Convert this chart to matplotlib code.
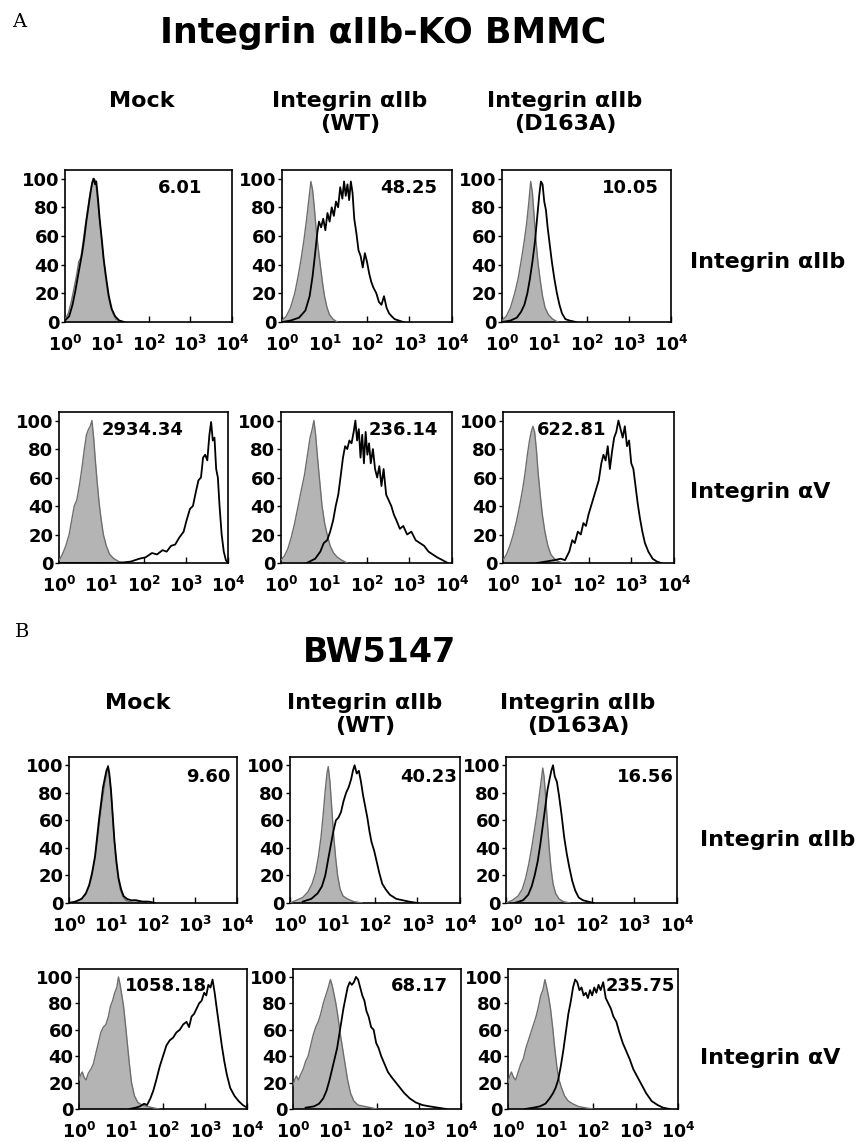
import numpy as np
import matplotlib
matplotlib.use("Agg")
import matplotlib.pyplot as plt

plt.rcParams["font.family"] = ["DejaVu Sans"]
plt.rcParams["font.weight"] = "bold"
plt.rcParams["mathtext.fontset"] = "dejavusans"

W, H = 867, 1142

# ------------------------------------------------------------
# Histogram traces: x in decades (log10 fluorescence), y in % of max
# ------------------------------------------------------------
# A / integrin aIIb row
a1_mock_iso_x = [0.00, 0.08, 0.15, 0.22, 0.28, 0.33, 0.38, 0.43, 0.48, 0.53, 0.58, 0.63, 0.67, 0.70, 0.73,
                 0.77, 0.81, 0.86, 0.91, 0.96, 1.02, 1.08, 1.15, 1.22, 1.30, 1.40]
a1_mock_iso_y = [2, 6, 14, 24, 33, 42, 45, 55, 66, 76, 86, 94, 100, 97, 99, 88, 76, 62, 47, 34, 21, 12, 6, 2, 1, 0]
a1_mock_stn_x = [0.00, 0.10, 0.18, 0.25, 0.31, 0.36, 0.41, 0.46, 0.51, 0.56, 0.61, 0.65, 0.69, 0.72, 0.75,
                 0.79, 0.83, 0.88, 0.93, 0.99, 1.05, 1.12, 1.20, 1.30, 1.42]
a1_mock_stn_y = [1, 4, 12, 22, 32, 40, 48, 58, 70, 80, 90, 97, 100, 96, 98, 86, 72, 58, 43, 30, 18, 9, 4, 1, 0]

a1_wt_iso_x = [0.00, 0.10, 0.20, 0.30, 0.38, 0.45, 0.52, 0.58, 0.63, 0.68, 0.72, 0.76, 0.80, 0.85, 0.90,
               0.95, 1.00, 1.06, 1.12, 1.20, 1.30]
a1_wt_iso_y = [1, 4, 10, 20, 32, 44, 58, 72, 85, 98, 92, 80, 66, 52, 40, 28, 18, 10, 5, 2, 0]
a1_wt_stn_x = [0.00, 0.20, 0.40, 0.55, 0.65, 0.72, 0.78, 0.83, 0.87, 0.92, 0.97, 1.02, 1.07, 1.12, 1.17,
               1.22, 1.27, 1.32, 1.37, 1.42, 1.46, 1.50, 1.54, 1.58, 1.62, 1.66, 1.70, 1.75, 1.80, 1.85,
               1.90, 1.95, 2.00, 2.05, 2.10, 2.15, 2.22, 2.28, 2.34, 2.40, 2.46, 2.52, 2.58, 2.65, 2.75, 2.85]
a1_wt_stn_y = [0, 1, 3, 8, 18, 32, 48, 62, 70, 66, 72, 64, 76, 70, 80, 74, 84, 80, 94, 86, 98, 88, 96, 85,
               98, 90, 72, 62, 50, 46, 38, 48, 42, 34, 28, 24, 20, 14, 12, 18, 10, 6, 4, 2, 1, 0]

a1_mut_iso_x = [0.00, 0.10, 0.20, 0.30, 0.38, 0.45, 0.52, 0.58, 0.63, 0.68, 0.72, 0.76, 0.80, 0.85, 0.90,
                0.96, 1.02, 1.10, 1.20, 1.32]
a1_mut_iso_y = [1, 4, 10, 20, 30, 42, 55, 68, 82, 98, 90, 74, 58, 42, 30, 18, 10, 5, 2, 0]
a1_mut_stn_x = [0.00, 0.20, 0.35, 0.45, 0.53, 0.60, 0.66, 0.72, 0.78, 0.83, 0.88, 0.92, 0.96, 1.00, 1.04,
                1.08, 1.13, 1.18, 1.24, 1.30, 1.36, 1.42, 1.50, 1.60, 1.75]
a1_mut_stn_y = [0, 1, 3, 7, 12, 20, 30, 42, 56, 72, 88, 98, 96, 84, 78, 66, 54, 42, 30, 20, 12, 6, 2, 1, 0]

# A / integrin aV row
a2_mock_iso_x = [0.00, 0.08, 0.16, 0.24, 0.30, 0.36, 0.42, 0.48, 0.54, 0.60, 0.65, 0.70, 0.74, 0.78, 0.82,
                 0.86, 0.90, 0.95, 1.00, 1.05, 1.12, 1.20, 1.30, 1.42, 1.55]
a2_mock_iso_y = [2, 6, 12, 20, 30, 40, 44, 54, 66, 80, 90, 94, 96, 100, 88, 72, 58, 42, 30, 20, 12, 6, 3, 1, 0]
a2_mock_stn_x = [0.00, 0.50, 1.00, 1.40, 1.70, 1.90, 2.05, 2.20, 2.32, 2.45, 2.55, 2.65, 2.75, 2.85, 2.95,
                 3.02, 3.10, 3.17, 3.24, 3.30, 3.36, 3.41, 3.46, 3.51, 3.56, 3.60, 3.64, 3.68, 3.72, 3.76,
                 3.80, 3.85, 3.90, 3.95, 4.00]
a2_mock_stn_y = [0, 0, 0, 0, 1, 3, 4, 7, 6, 9, 8, 12, 13, 18, 22, 30, 38, 40, 50, 58, 60, 74, 76, 72, 90,
                 99, 86, 88, 66, 60, 40, 20, 8, 2, 0]

a2_wt_iso_x = [0.00, 0.08, 0.16, 0.24, 0.32, 0.40, 0.48, 0.55, 0.62, 0.68, 0.73, 0.77, 0.81, 0.86, 0.91,
               0.96, 1.02, 1.08, 1.15, 1.23, 1.32, 1.42, 1.55]
a2_wt_iso_y = [2, 5, 10, 18, 28, 40, 52, 62, 76, 88, 94, 100, 90, 72, 56, 40, 28, 20, 12, 7, 4, 2, 0]
a2_wt_stn_x = [0.60, 0.80, 0.92, 1.00, 1.08, 1.15, 1.22, 1.28, 1.34, 1.40, 1.45, 1.50, 1.55, 1.60, 1.65,
               1.70, 1.74, 1.78, 1.82, 1.86, 1.90, 1.94, 1.98, 2.02, 2.06, 2.10, 2.15, 2.20, 2.25, 2.30,
               2.35, 2.40, 2.46, 2.52, 2.58, 2.64, 2.70, 2.78, 2.86, 2.95, 3.05, 3.15, 3.25, 3.35, 3.45,
               3.55, 3.65, 3.78, 3.90]
a2_wt_stn_y = [0, 3, 8, 14, 16, 22, 30, 40, 48, 62, 74, 82, 80, 86, 84, 92, 100, 86, 94, 74, 90, 70, 92,
               76, 84, 70, 80, 66, 60, 68, 54, 66, 48, 44, 40, 34, 30, 24, 26, 20, 22, 16, 14, 12, 8, 6,
               4, 2, 0]

a2_mut_iso_x = [0.00, 0.08, 0.16, 0.24, 0.32, 0.40, 0.46, 0.52, 0.57, 0.62, 0.66, 0.70, 0.74, 0.78, 0.82,
                0.87, 0.92, 0.98, 1.05, 1.12, 1.20, 1.30, 1.42, 1.55]
a2_mut_iso_y = [2, 6, 12, 20, 30, 42, 52, 64, 76, 86, 92, 96, 92, 80, 64, 48, 34, 22, 12, 6, 3, 1, 0, 0]
a2_mut_stn_x = [0.80, 1.00, 1.20, 1.35, 1.45, 1.55, 1.62, 1.68, 1.75, 1.82, 1.88, 1.94, 2.00, 2.06, 2.12,
                2.18, 2.24, 2.30, 2.35, 2.40, 2.45, 2.50, 2.55, 2.60, 2.65, 2.70, 2.75, 2.80, 2.85, 2.90,
                2.95, 3.00, 3.05, 3.10, 3.15, 3.20, 3.26, 3.32, 3.40, 3.50, 3.60, 3.70]
a2_mut_stn_y = [0, 1, 2, 3, 2, 8, 16, 14, 22, 20, 28, 26, 34, 40, 46, 52, 58, 70, 76, 72, 82, 66, 78, 88,
                92, 100, 94, 88, 96, 82, 86, 70, 66, 54, 42, 32, 22, 14, 8, 3, 1, 0]

# B / integrin aIIb row
b1_mock_iso_x = [0.00, 0.15, 0.30, 0.40, 0.48, 0.55, 0.62, 0.68, 0.73, 0.78, 0.82, 0.86, 0.90, 0.93, 0.96,
                 1.00, 1.04, 1.08, 1.12, 1.17, 1.22, 1.28, 1.35, 1.45, 1.55, 1.70, 1.85, 2.00]
b1_mock_iso_y = [0, 1, 3, 6, 12, 20, 32, 46, 60, 72, 80, 88, 94, 100, 92, 80, 62, 44, 30, 18, 10, 5, 2, 1,
                 2, 1, 1, 0]
b1_mock_stn_x = [0.00, 0.15, 0.30, 0.40, 0.48, 0.55, 0.62, 0.67, 0.72, 0.77, 0.81, 0.85, 0.89, 0.93, 0.96,
                 1.00, 1.04, 1.08, 1.13, 1.18, 1.24, 1.30, 1.38, 1.48, 1.60, 1.75, 1.90, 2.05]
b1_mock_stn_y = [0, 1, 3, 7, 13, 22, 34, 48, 62, 74, 84, 90, 96, 99, 94, 82, 64, 46, 30, 18, 10, 5, 3, 2,
                 2, 1, 1, 0]

b1_wt_iso_x = [0.00, 0.15, 0.30, 0.42, 0.52, 0.60, 0.67, 0.73, 0.78, 0.83, 0.87, 0.90, 0.94, 0.98, 1.02,
               1.07, 1.12, 1.18, 1.25, 1.35, 1.50, 1.70]
b1_wt_iso_y = [0, 2, 4, 8, 14, 22, 34, 48, 64, 82, 94, 99, 88, 70, 52, 34, 20, 10, 5, 3, 1, 0]
b1_wt_stn_x = [0.30, 0.50, 0.65, 0.75, 0.83, 0.90, 0.96, 1.02, 1.08, 1.14, 1.20, 1.26, 1.32, 1.38, 1.44,
               1.48, 1.52, 1.57, 1.62, 1.67, 1.72, 1.77, 1.82, 1.87, 1.92, 1.98, 2.04, 2.10, 2.17, 2.25,
               2.35, 2.50, 2.65, 2.80, 3.00]
b1_wt_stn_y = [1, 3, 7, 12, 20, 32, 42, 52, 60, 62, 66, 74, 80, 84, 90, 96, 100, 94, 96, 88, 78, 70, 62,
               52, 44, 38, 30, 22, 14, 10, 6, 3, 2, 1, 0]

b1_mut_iso_x = [0.00, 0.15, 0.28, 0.38, 0.46, 0.53, 0.60, 0.66, 0.72, 0.77, 0.82, 0.86, 0.89, 0.93, 0.97,
                1.01, 1.05, 1.10, 1.16, 1.24, 1.34, 1.50]
b1_mut_iso_y = [0, 2, 5, 10, 18, 28, 40, 52, 64, 76, 88, 98, 92, 76, 58, 40, 26, 14, 7, 3, 1, 0]
b1_mut_stn_x = [0.20, 0.40, 0.52, 0.60, 0.67, 0.74, 0.80, 0.86, 0.92, 0.97, 1.02, 1.06, 1.10, 1.14, 1.19,
                1.24, 1.30, 1.36, 1.42, 1.48, 1.55, 1.62, 1.70, 1.80, 1.92, 2.05]
b1_mut_stn_y = [0, 2, 6, 12, 20, 30, 42, 56, 70, 82, 90, 96, 100, 92, 88, 78, 64, 48, 36, 26, 16, 9, 4,
                2, 1, 0]

# B / integrin aV row
b2_mock_iso_x = [0.00, 0.04, 0.08, 0.12, 0.17, 0.22, 0.28, 0.34, 0.40, 0.46, 0.52, 0.58, 0.64, 0.70, 0.75,
                 0.80, 0.85, 0.90, 0.94, 0.98, 1.02, 1.06, 1.10, 1.15, 1.20, 1.25, 1.32, 1.40, 1.50, 1.62,
                 1.75, 1.90]
b2_mock_iso_y = [22, 26, 28, 24, 22, 27, 30, 34, 42, 50, 58, 62, 64, 70, 78, 82, 88, 92, 100, 94, 86, 78,
                 66, 50, 34, 20, 10, 5, 3, 2, 1, 0]
b2_mock_stn_x = [1.20, 1.35, 1.45, 1.55, 1.62, 1.70, 1.77, 1.84, 1.92, 2.00, 2.08, 2.16, 2.24, 2.32, 2.40,
                 2.48, 2.56, 2.62, 2.68, 2.74, 2.80, 2.86, 2.92, 2.98, 3.03, 3.08, 3.13, 3.18, 3.23, 3.28,
                 3.34, 3.40, 3.46, 3.52, 3.60, 3.70, 3.80, 3.90, 4.00]
b2_mock_stn_y = [0, 1, 2, 4, 3, 8, 14, 22, 32, 40, 48, 52, 54, 58, 60, 64, 66, 62, 70, 72, 76, 80, 82, 88,
                 86, 94, 92, 98, 88, 76, 62, 48, 36, 26, 16, 10, 6, 3, 1]

b2_wt_iso_x = [0.00, 0.04, 0.08, 0.13, 0.18, 0.24, 0.30, 0.36, 0.42, 0.48, 0.54, 0.60, 0.66, 0.72, 0.78,
               0.84, 0.89, 0.93, 0.97, 1.02, 1.07, 1.12, 1.18, 1.24, 1.30, 1.37, 1.45, 1.55, 1.70, 1.85,
               2.00]
b2_wt_iso_y = [18, 22, 25, 22, 26, 30, 36, 40, 48, 56, 62, 66, 72, 80, 86, 92, 98, 94, 88, 80, 70, 58, 46,
               34, 22, 12, 6, 3, 2, 1, 0]
b2_wt_stn_x = [0.30, 0.50, 0.62, 0.72, 0.80, 0.87, 0.93, 0.99, 1.05, 1.10, 1.15, 1.20, 1.25, 1.30, 1.35,
               1.40, 1.45, 1.50, 1.55, 1.60, 1.65, 1.70, 1.75, 1.80, 1.86, 1.92, 1.98, 2.04, 2.10, 2.18,
               2.26, 2.35, 2.45, 2.55, 2.65, 2.78, 2.92, 3.08, 3.25, 3.45, 3.65]
b2_wt_stn_y = [1, 2, 4, 8, 14, 22, 30, 38, 46, 56, 66, 76, 84, 92, 96, 94, 96, 100, 98, 92, 86, 82, 74, 70,
               62, 60, 50, 46, 40, 34, 28, 24, 20, 16, 12, 8, 5, 3, 2, 1, 0]

b2_mut_iso_x = [0.00, 0.04, 0.08, 0.13, 0.18, 0.24, 0.30, 0.36, 0.42, 0.48, 0.54, 0.60, 0.66, 0.72, 0.77,
                0.82, 0.87, 0.91, 0.95, 1.00, 1.05, 1.10, 1.15, 1.20, 1.26, 1.33, 1.42, 1.52, 1.65, 1.80,
                2.00]
b2_mut_iso_y = [20, 25, 28, 24, 22, 28, 34, 38, 46, 52, 58, 64, 70, 78, 86, 90, 98, 92, 86, 76, 62, 46, 32,
                22, 16, 10, 6, 4, 2, 1, 0]
b2_mut_stn_x = [0.40, 0.60, 0.75, 0.88, 0.98, 1.06, 1.12, 1.18, 1.24, 1.30, 1.36, 1.42, 1.48, 1.53, 1.58,
                1.63, 1.68, 1.73, 1.78, 1.83, 1.88, 1.93, 1.98, 2.03, 2.08, 2.13, 2.18, 2.24, 2.30, 2.36,
                2.42, 2.48, 2.55, 2.62, 2.70, 2.78, 2.86, 2.95, 3.05, 3.15, 3.25, 3.38, 3.52, 3.65, 3.80]
b2_mut_stn_y = [0, 1, 2, 4, 8, 12, 16, 22, 32, 44, 58, 72, 82, 92, 98, 96, 90, 92, 86, 88, 84, 90, 86, 92,
                88, 94, 90, 96, 84, 80, 76, 70, 66, 58, 50, 44, 38, 30, 24, 18, 12, 6, 3, 1, 0]

# MFI values printed in each panel
a1_mfi = ["6.01", "48.25", "10.05"]
a2_mfi = ["2934.34", "236.14", "622.81"]
b1_mfi = ["9.60", "40.23", "16.56"]
b2_mfi = ["1058.18", "68.17", "235.75"]

col_labels = ["Mock", "Integrin \u03b1IIb\n(WT)", "Integrin \u03b1IIb\n(D163A)"]
row_labels = ["Integrin \u03b1IIb", "Integrin \u03b1V"]
y_ticks = [0, 20, 40, 60, 80, 100]
x_ticks = [1, 10, 100, 1000, 10000]

# ------------------------------------------------------------
# Layout (pixel boxes: left, top, right, bottom)
# ------------------------------------------------------------
rows = [
    {"boxes": [(65, 170, 232, 322), (282, 170, 452, 322), (502, 170, 671, 322)],
     "traces": [(a1_mock_iso_x, a1_mock_iso_y, a1_mock_stn_x, a1_mock_stn_y),
                (a1_wt_iso_x, a1_wt_iso_y, a1_wt_stn_x, a1_wt_stn_y),
                (a1_mut_iso_x, a1_mut_iso_y, a1_mut_stn_x, a1_mut_stn_y)],
     "mfi": a1_mfi,
     "mfi_pos": [(0.82, 0.88, "right"), (0.91, 0.88, "right"), (0.93, 0.88, "right")]},
    {"boxes": [(59, 412, 228, 563), (281, 412, 452, 563), (503, 412, 674, 563)],
     "traces": [(a2_mock_iso_x, a2_mock_iso_y, a2_mock_stn_x, a2_mock_stn_y),
                (a2_wt_iso_x, a2_wt_iso_y, a2_wt_stn_x, a2_wt_stn_y),
                (a2_mut_iso_x, a2_mut_iso_y, a2_mut_stn_x, a2_mut_stn_y)],
     "mfi": a2_mfi,
     "mfi_pos": [(0.25, 0.88, "left"), (0.51, 0.88, "left"), (0.20, 0.88, "left")]},
    {"boxes": [(69, 757, 237, 903), (290, 757, 460, 903), (506, 757, 677, 903)],
     "traces": [(b1_mock_iso_x, b1_mock_iso_y, b1_mock_stn_x, b1_mock_stn_y),
                (b1_wt_iso_x, b1_wt_iso_y, b1_wt_stn_x, b1_wt_stn_y),
                (b1_mut_iso_x, b1_mut_iso_y, b1_mut_stn_x, b1_mut_stn_y)],
     "mfi": b1_mfi,
     "mfi_pos": [(0.96, 0.86, "right"), (0.98, 0.86, "right"), (0.98, 0.86, "right")]},
    {"boxes": [(79, 969, 247, 1109), (293, 969, 461, 1109), (508, 969, 678, 1109)],
     "traces": [(b2_mock_iso_x, b2_mock_iso_y, b2_mock_stn_x, b2_mock_stn_y),
                (b2_wt_iso_x, b2_wt_iso_y, b2_wt_stn_x, b2_wt_stn_y),
                (b2_mut_iso_x, b2_mut_iso_y, b2_mut_stn_x, b2_mut_stn_y)],
     "mfi": b2_mfi,
     "mfi_pos": [(0.52, 0.88, "center"), (0.92, 0.88, "right"), (0.98, 0.88, "right")]},
]

fig = plt.figure(figsize=(W / 100, H / 100), dpi=100)


def px_axes(box):
    l, t, r, b = box
    return fig.add_axes([l / W, 1 - b / H, (r - l) / W, (b - t) / H])


def fig_text(x, y, s, **kw):
    fig.text(x / W, 1 - y / H, s, **kw)


def histogram(ax, iso_x, iso_y, stn_x, stn_y, label, pos):
    ix = 10 ** np.asarray(iso_x)
    sx = 10 ** np.asarray(stn_x)
    ax.fill_between(ix, 0, iso_y, color="#b4b4b4", lw=0, zorder=2)
    ax.plot(ix, iso_y, color="#6e6e6e", lw=1.0, zorder=3)
    ax.plot(sx, stn_y, color="black", lw=1.3, zorder=4)
    ax.set_xscale("log")
    ax.set_xlim(1, 1e4)
    ax.set_ylim(0, 106)
    ax.set_yticks(y_ticks)
    ax.set_yticklabels([str(v) for v in y_ticks], fontsize=13, fontweight="bold")
    ax.set_xticks(x_ticks)
    ax.set_xticklabels([r"$\mathbf{10^{%d}}$" % k for k in range(5)], fontsize=12.5)
    ax.tick_params(axis="y", direction="out", length=3, width=1, pad=1)
    ax.tick_params(axis="x", which="major", direction="in", length=4, width=1, pad=9)
    ax.tick_params(axis="x", which="minor", direction="in", length=2.5, width=0.8)
    for sp in ax.spines.values():
        sp.set_linewidth(1.2)
    x, y, ha = pos
    ax.text(x, y, label, transform=ax.transAxes, ha=ha, va="center",
            fontsize=13, fontweight="bold", zorder=5)


for row in rows:
    for box, tr, lab, pos in zip(row["boxes"], row["traces"], row["mfi"], row["mfi_pos"]):
        ax = px_axes(box)
        histogram(ax, *tr, lab, pos)

# Panel letters and section titles
fig_text(12, 22, "A", family="DejaVu Serif", fontweight="normal", fontsize=14, va="center")
fig_text(15, 632, "B", family="DejaVu Serif", fontweight="normal", fontsize=14, va="center")
fig_text(383, 33, "Integrin \u03b1IIb-KO BMMC", fontsize=25, fontweight="bold", ha="center", va="center")
fig_text(380, 652, "BW5147", fontsize=24, fontweight="bold", ha="center", va="center")

# Column headers, anchored on their first line
for xs, y0 in [((142, 350, 565), 91), ((138, 365, 578), 693)]:
    for x, lab in zip(xs, col_labels):
        fig_text(x, y0, lab, fontsize=16, fontweight="bold", ha="center", va="top",
                 linespacing=1.2)

# Row labels
for y, lab in zip((262, 492), row_labels):
    fig_text(690, y, lab, fontsize=16, fontweight="bold", ha="left", va="center")
for y, lab in zip((840, 1058), row_labels):
    fig_text(700, y, lab, fontsize=16, fontweight="bold", ha="left", va="center")

fig.savefig("out.png", dpi=100, facecolor="white")
